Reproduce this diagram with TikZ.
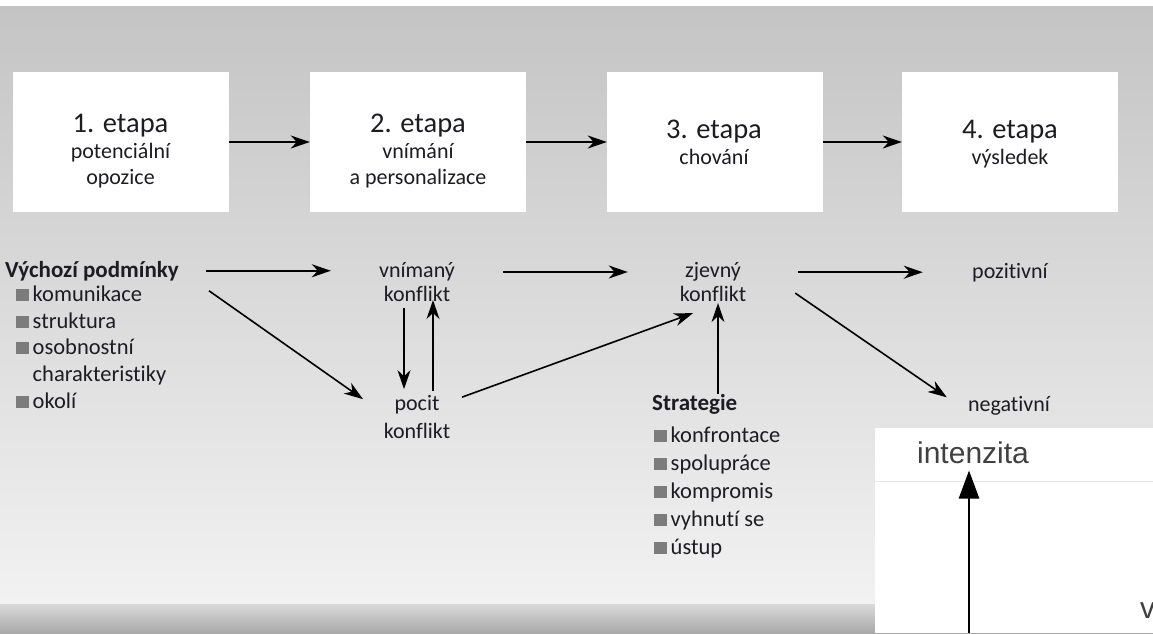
\documentclass[tikz,border=0pt]{standalone}
\usepackage{fontspec}
\setmainfont{Carlito}[Ligatures=NoCommon]
\newfontfamily\axisfont{Liberation Sans}
\usetikzlibrary{arrows.meta}
\definecolor{bgtop}{HTML}{C4C4C4}
\definecolor{bgbot}{HTML}{F2F2F2}
\definecolor{bandtop}{HTML}{DADADA}
\definecolor{bandbot}{HTML}{A8A8A8}
\definecolor{txtcol}{HTML}{1C1C22}
\definecolor{bulcol}{HTML}{7C7C7C}
\newcommand{\bul}{{\color{bulcol}\rule{12.5pt}{12.5pt}}\hspace{4pt}}

\begin{document}
\begin{tikzpicture}[x=1pt,y=-1pt,
		box/.style={fill=white,minimum width=216pt,minimum height=140pt,inner sep=0pt},
		etxt/.style={align=center,inner sep=0pt,text=txtcol,font=\fontsize{22}{26}\selectfont},
		lbl/.style={align=center,inner sep=0pt,text=txtcol,font=\fontsize{22}{24.5}\selectfont},
		item/.style={anchor=base west,inner sep=0pt,text=txtcol,font=\fontsize{22.5}{27}\selectfont},
		head/.style={anchor=base west,inner sep=0pt,text=txtcol,font=\fontsize{23}{27}\selectfont\bfseries},
		arr/.style={line width=1.6pt,-{Stealth[length=19pt,width=13pt,inset=6pt]}}]
	\useasboundingbox (0,0) rectangle (1153,633);
	\fill[white] (0,0) rectangle (1153,633);
	\shade[top color=bgtop,bottom color=bgbot] (0,6) rectangle (1153,604);
	\shade[top color=bandtop,bottom color=bandbot] (0,604) rectangle (1153,633);

	% etapy
	\node[box] (e1) at (120.5,142) {};
	\node[box] (e2) at (418,142) {};
	\node[box] (e3) at (715,142) {};
	\node[box] (e4) at (1010,142) {};
	\node[etxt] (t1) at (120.5,151.5) {{\fontsize{28.5}{28}\selectfont 1. etapa}\\potenciální\\opozice};
	\node[etxt] (t2) at (418,151.5) {{\fontsize{28.5}{28}\selectfont 2. etapa}\\vnímání\\a personalizace};
	\node[etxt] (t3) at (714,142) {{\fontsize{28.5}{28}\selectfont 3. etapa}\\chování};
	\node[etxt] (t4) at (1010,144) {{\fontsize{28.5}{28}\selectfont 4. etapa}\\výsledek};
	\draw[arr] (e1) -- (e2);
	\draw[arr] (e2) -- (e3);
	\draw[arr] (e3) -- (e4);

	\node[head] (vych) at (5,277) {Výchozí podmínky};
	\foreach \t/\y [count=\i] in {\bul komunikace/301, \bul struktura/328, \bul osobnostní/354,
			\hspace*{16.5pt}charakteristiky/381, \bul okolí/408}
		\node[item] (p\i) at (16,\y) {\t};

	\node[lbl,minimum width=172pt] (vnim) at (417,282) {vnímaný\\konflikt};
	\node[lbl,minimum width=172pt,font=\fontsize{22}{28}\selectfont] (pocit) at (417,417) {pocit\\konflikt};
	\node[lbl,minimum width=170pt] (zjev) at (713,282) {zjevný\\konflikt};
	\node[lbl,minimum width=174pt,anchor=base] (poz) at (1010,278) {pozitivní};
	\node[lbl,minimum width=124pt,anchor=base] (neg) at (1009,411) {negativní};

	\node[head] (strat) at (652,410) {Strategie};
	\foreach \t [count=\i] in {konfrontace, spolupráce, kompromis, vyhnutí se, ústup}
		\node[item] (s\i) at (654,414+28*\i) {\bul\t};

	\draw[arr,shorten <=27pt] (vych.east) -- (vych.east -| vnim.west);
	\draw[arr] ([xshift=30pt,yshift=-10pt]vych.south east) -- ([xshift=-54pt,yshift=-4pt]pocit.north);
	\draw[arr] ([xshift=-13pt,yshift=-6pt]vnim.south) -- ([xshift=-13pt,yshift=6pt]pocit.north);
	\draw[arr] ([xshift=16pt,yshift=4pt]pocit.north) -- ([xshift=16pt,yshift=2pt]vnim.south);
	\draw[arr] ([yshift=10pt]vnim.east) -- ([yshift=10pt]zjev.west);
	\draw[arr] ([xshift=45pt,yshift=-2pt]pocit.north) -- ([xshift=-20pt,yshift=-11pt]zjev.south);
	\draw[arr] ([xshift=5pt]zjev.south |- strat.north) -- ([xshift=5pt,yshift=-1pt]zjev.south);
	\draw[arr] (poz.west -| zjev.east) -- (poz.west);
	\draw[arr] ([xshift=-3pt,yshift=9pt]zjev.south east) -- ([yshift=8pt]neg.west);

	% vlozeny graf
	\fill[white] (875,428) rectangle (1153,633);
	\draw[black!10] (875,481) -- (1153,481);
	\node[font=\axisfont\fontsize{30}{30}\selectfont,text=black!75,inner sep=0pt,anchor=base] (intz) at (973,463) {intenzita};
	\node[font=\axisfont\fontsize{30}{30}\selectfont,text=black!75,inner sep=0pt,anchor=base west] (osav) at (1140,618) {v};
	\coordinate (osa) at (969,633);
	\draw[line width=2.5pt,-{Triangle[length=28pt,width=20pt]},shorten >=7pt] (osa) -- (osa |- intz.south);
\end{tikzpicture}
\end{document}
